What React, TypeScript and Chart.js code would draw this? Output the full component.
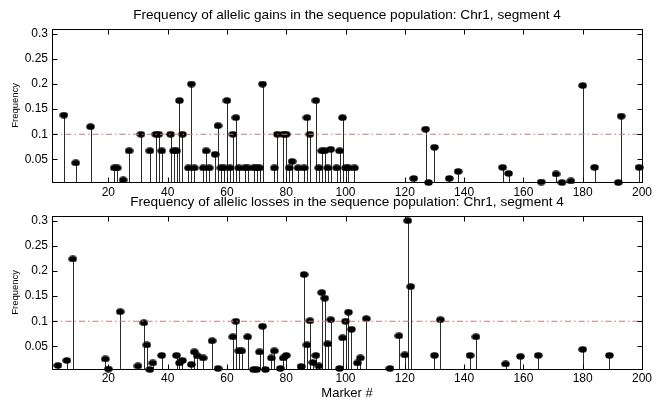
import React, { useEffect, useRef } from 'react';
import { Chart, registerables } from 'chart.js';

Chart.register(...registerables);

const GAIN_TITLE = 'Frequency of allelic gains in the sequence population: Chr1, segment 4';
const LOSS_TITLE = 'Frequency of allelic losses in the sequence population: Chr1, segment 4';
const Y_LABEL = 'Frequency';
const X_LABEL = 'Marker #';

const GAIN_MARKERS = [
  5, 9, 14, 22, 23, 25, 27, 31, 34, 36, 37, 38, 41, 42, 43, 44, 45, 47, 48, 49,
  52, 53, 54, 56, 57, 58, 59, 60, 61, 62, 63, 64, 66, 67, 69, 70, 71, 72, 76, 77,
  79, 80, 81, 82, 84, 86, 87, 88, 90, 91, 92, 93, 94, 95, 97, 98, 99, 100, 101, 103,
  123, 127, 128, 130, 135, 138, 153, 155, 166, 171, 173, 176, 180, 184, 192, 193, 199,
];
const GAIN_FREQ = [
  0.138, 0.043, 0.115, 0.033, 0.033, 0.009, 0.067, 0.1, 0.067, 0.1, 0.1, 0.067, 0.1, 0.067, 0.067, 0.167, 0.1, 0.033, 0.2, 0.033,
  0.033, 0.067, 0.033, 0.06, 0.117, 0.033, 0.033, 0.167, 0.033, 0.1, 0.133, 0.033, 0.033, 0.033, 0.033, 0.033, 0.033, 0.2, 0.033, 0.1,
  0.1, 0.1, 0.033, 0.046, 0.033, 0.033, 0.133, 0.1, 0.167, 0.033, 0.067, 0.067, 0.033, 0.07, 0.033, 0.067, 0.133, 0.033, 0.033, 0.033,
  0.012, 0.11, 0.004, 0.074, 0.012, 0.026, 0.034, 0.022, 0.005, 0.021, 0.004, 0.007, 0.197, 0.034, 0.004, 0.136, 0.034,
];

const LOSS_MARKERS = [
  3, 6, 8, 19, 20, 24, 30, 32, 33, 34, 35, 38, 43, 44, 45, 48, 49, 50, 52, 55,
  57, 62, 63, 64, 65, 67, 69, 70, 71, 72, 73, 75, 76, 78, 79, 80, 85, 86, 87, 88,
  89, 90, 91, 92, 93, 94, 95, 98, 99, 100, 101, 102, 104, 105, 107, 115, 118, 120, 121, 122,
  130, 132, 142, 144, 154, 159, 165, 180, 189,
];
const LOSS_FREQ = [
  0.012, 0.022, 0.224, 0.025, 0.005, 0.119, 0.011, 0.097, 0.053, 0.004, 0.017, 0.032, 0.032, 0.017, 0.022, 0.014, 0.039, 0.031, 0.027, 0.061,
  0.006, 0.069, 0.1, 0.041, 0.041, 0.069, 0.004, 0.004, 0.039, 0.09, 0.004, 0.027, 0.041, 0.006, 0.027, 0.032, 0.01, 0.193, 0.053, 0.101,
  0.018, 0.032, 0.011, 0.157, 0.146, 0.055, 0.103, 0.006, 0.067, 0.1, 0.118, 0.084, 0.017, 0.027, 0.105, 0.006, 0.071, 0.033, 0.3, 0.169,
  0.032, 0.103, 0.032, 0.069, 0.015, 0.03, 0.032, 0.044, 0.032,
];

const X_TICKS = [20, 40, 60, 80, 100, 120, 140, 160, 180, 200];
const Y_TICKS = [0.05, 0.1, 0.15, 0.2, 0.25, 0.3];
const X_MIN = 1;
const X_MAX = 200;
const Y_MIN = 0.005;
const Y_MAX = 0.31;
const THRESHOLD = 0.1;

const FONT = '"Liberation Sans", Arial, Helvetica, sans-serif';

function makeMarker(): HTMLCanvasElement {
  const c = document.createElement('canvas');
  c.width = 9;
  c.height = 7;
  const g = c.getContext('2d')!;
  g.fillStyle = '#000';
  g.beginPath();
  g.ellipse(4.5, 3.5, 4.2, 3.2, 0, 0, Math.PI * 2);
  g.fill();
  return c;
}

const framePlugin = {
  id: 'matlabFrame',
  beforeDatasetsDraw(chart: any) {
    const { ctx, chartArea: a } = chart;
    const meta = chart.getDatasetMeta(1);
    ctx.save();
    ctx.strokeStyle = '#2a2a2a';
    ctx.lineWidth = 1;
    meta.data.forEach((el: any) => {
      if (el.y >= a.bottom) return;
      const x = Math.round(el.x) + 0.5;
      ctx.beginPath();
      ctx.moveTo(x, el.y);
      ctx.lineTo(x, a.bottom);
      ctx.stroke();
    });
    ctx.restore();
  },
  afterDraw(chart: any) {
    const { ctx, chartArea: a, scales } = chart;
    const L = Math.round(a.left) + 0.5;
    const R = Math.round(a.right) + 0.5;
    const T = Math.round(a.top) + 0.5;
    const B = Math.round(a.bottom) + 0.5;
    ctx.save();
    ctx.strokeStyle = '#000';
    ctx.lineWidth = 1;
    ctx.strokeRect(L, T, R - L, B - T);
    const len = 5;
    ctx.beginPath();
    X_TICKS.forEach((v) => {
      const x = Math.round(scales.x.getPixelForValue(v)) + 0.5;
      ctx.moveTo(x, B);
      ctx.lineTo(x, B - len);
      ctx.moveTo(x, T);
      ctx.lineTo(x, T + len);
    });
    Y_TICKS.forEach((v) => {
      const y = Math.round(scales.y.getPixelForValue(v)) + 0.5;
      ctx.moveTo(L, y);
      ctx.lineTo(L + len, y);
      ctx.moveTo(R, y);
      ctx.lineTo(R - len, y);
    });
    ctx.stroke();
    ctx.restore();
  },
};

type PanelProps = {
  title: string;
  markers: number[];
  freq: number[];
  top: number;
  height: number;
  titlePad: { top: number; bottom: number };
  xAxisHeight: number;
  xTickPad: number;
  xLabel?: string;
};

function Panel(props: PanelProps) {
  const ref = useRef<HTMLCanvasElement>(null);
  useEffect(() => {
    const marker = makeMarker();
    const points = props.markers.map((m, i) => ({ x: m, y: props.freq[i] }));
    const chart = new Chart(ref.current!, {
      type: 'scatter',
      data: {
        datasets: [
          {
            type: 'line',
            data: [
              { x: X_MIN, y: THRESHOLD },
              { x: X_MAX, y: THRESHOLD },
            ],
            borderColor: '#c47a7a',
            borderWidth: 1,
            borderDash: [6, 3, 1.5, 3],
            pointRadius: 0,
            order: 0,
          } as any,
          {
            data: points,
            pointStyle: marker as any,
            pointRadius: 4,
            backgroundColor: '#000',
            borderColor: '#000',
            clip: false as any,
            order: 1,
          },
        ],
      },
      options: {
        responsive: false,
        animation: false,
        devicePixelRatio: 1,
        layout: { padding: { left: 0, right: 22, top: 0, bottom: 0 } },
        plugins: {
          legend: { display: false },
          tooltip: { enabled: false },
          title: {
            display: true,
            fullSize: false,
            text: props.title,
            color: '#000',
            font: { family: FONT, size: 13.6, weight: 'normal' },
            padding: props.titlePad,
          } as any,
        },
        scales: {
          x: {
            type: 'linear',
            min: X_MIN,
            max: X_MAX,
            grid: { display: false, drawTicks: false },
            border: { display: false },
            afterBuildTicks: (s: any) => {
              s.ticks = X_TICKS.map((v) => ({ value: v }));
            },
            afterFit: (s: any) => {
              s.height = props.xAxisHeight;
            },
            ticks: {
              autoSkip: false,
              maxRotation: 0,
              minRotation: 0,
              padding: props.xTickPad,
              color: '#000',
              font: { family: FONT, size: 12 },
              callback: (v: any) => String(v),
            },
            title: {
              display: !!props.xLabel,
              text: props.xLabel || '',
              color: '#000',
              font: { family: FONT, size: 13 },
              padding: { top: 0, bottom: 5 },
            },
          },
          y: {
            type: 'linear',
            min: Y_MIN,
            max: Y_MAX,
            grid: { display: false, drawTicks: false },
            border: { display: false },
            afterBuildTicks: (s: any) => {
              s.ticks = Y_TICKS.map((v) => ({ value: v }));
            },
            afterFit: (s: any) => {
              s.width = 52;
            },
            ticks: {
              padding: 4,
              color: '#000',
              font: { family: FONT, size: 12 },
              callback: (v: any) => String(v),
            },
            title: {
              display: true,
              text: Y_LABEL,
              color: '#000',
              font: { family: FONT, size: 9.5 },
              padding: { top: 10, bottom: 0 },
            },
          },
        },
      },
      plugins: [framePlugin],
    });
    return () => chart.destroy();
  }, []);
  return (
    <canvas
      ref={ref}
      width={664}
      height={props.height}
      style={{ position: 'absolute', left: 0, top: props.top, width: 664, height: props.height }}
    />
  );
}

export default function App() {
  return (
    <div style={{ position: 'absolute', left: 0, top: 0, width: 664, height: 406, background: '#fff', overflow: 'hidden' }}>
      <Panel
        title={GAIN_TITLE}
        markers={GAIN_MARKERS}
        freq={GAIN_FREQ}
        top={0}
        height={206}
        titlePad={{ top: 7, bottom: 5.4 }}
        xAxisHeight={24}
        xTickPad={3}
      />
      <Panel
        title={LOSS_TITLE}
        markers={LOSS_MARKERS}
        freq={LOSS_FREQ}
        top={190}
        height={216}
        titlePad={{ top: 4.2, bottom: 5.2 }}
        xAxisHeight={37}
        xTickPad={2}
        xLabel={X_LABEL}
      />
    </div>
  );
}
